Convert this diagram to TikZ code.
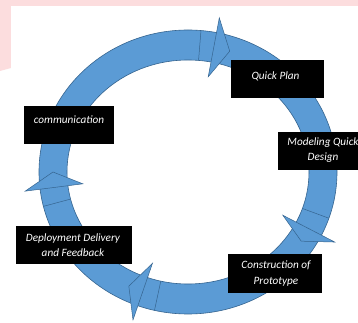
\documentclass[tikz,border=0pt]{standalone}
\usepackage{fontspec}
\setmainfont{Carlito}
\begin{document}
\begin{tikzpicture}[x=1pt,y=1pt,
  ringfill/.style={fill=ringblue,draw=ringedge,line width=0.6pt},
  notch/.style={draw=ringedge,line width=0.5pt},
  headshape/.style={fill=ringblue,draw=ringedge,line width=0.5pt,line join=miter},
  box/.style={fill=black,draw=none,inner sep=0pt},
  lbl/.style={text=white,font=\fontsize{11.2}{15.5}\selectfont\itshape,align=center,inner sep=0pt}]
\definecolor{ringblue}{HTML}{5B9BD5}
\definecolor{ringedge}{HTML}{35648F}
\definecolor{blush}{HTML}{FCDDDE}
% page frame, origin at the centre of the ring
\clip (-188,-151) rectangle (170,172);
\fill[white] (-188,-151) rectangle (170,172);
% pink band along the top and the left edge
\fill[blush] (-188,172) -- (170,172) -- (170,166) -- (-177,166) -- (-177,104) -- (-188,101) -- cycle;

% the ring
\path[ringfill,even odd rule] (0,0) ellipse [x radius=149,y radius=142]
                              (0,0) ellipse [x radius=121,y radius=112];

% joints where one arrow segment starts
\foreach \a/\n in {85/nA,-19/nB,-103/nC,194/nD}{
  \coordinate (\n o) at (\a:149 and 142);
  \coordinate (\n i) at (\a:121 and 112);
  \draw[notch] (\n o) -- (\n i);
}

% arrowheads, clockwise: back angle / tip angle
\foreach \b/\t/\n in {79/72/hA,-26.5/-33/hB,-109.6/-116/hC,187/180/hD}{
  \coordinate (\n o) at (\b:164 and 157);
  \coordinate (\n i) at (\b:106 and 97);
  \coordinate (\n t) at (\t:135 and 127);
  \draw[headshape] (\n o) -- (\n t) -- (\n i) -- cycle;
}

% labels
\node[box,minimum width=93pt,minimum height=38pt] (plan) at (89,93) {};
\node[lbl] (planT) at (87.5,96) {Quick Plan};

\node[box,minimum width=90pt,minimum height=38pt] (comm) at (-119,47) {};
\node[lbl] (commT) at (-119,52) {communication};

\node[box,minimum width=88pt,minimum height=38pt] (model) at (134,21) {};
\node[lbl] (modelT) at (135,22) {Modeling Quick\\Design};

\node[box,minimum width=116pt,minimum height=38pt] (deploy) at (-114,-73) {};
\node[lbl] (deployT) at (-115,-73) {Deployment Delivery\\and Feedback};

\node[box,minimum width=94pt,minimum height=39pt] (build) at (87,-101.5) {};
\node[lbl] (buildT) at (88,-101.5) {Construction of\\Prototype};
\end{tikzpicture}
\end{document}
